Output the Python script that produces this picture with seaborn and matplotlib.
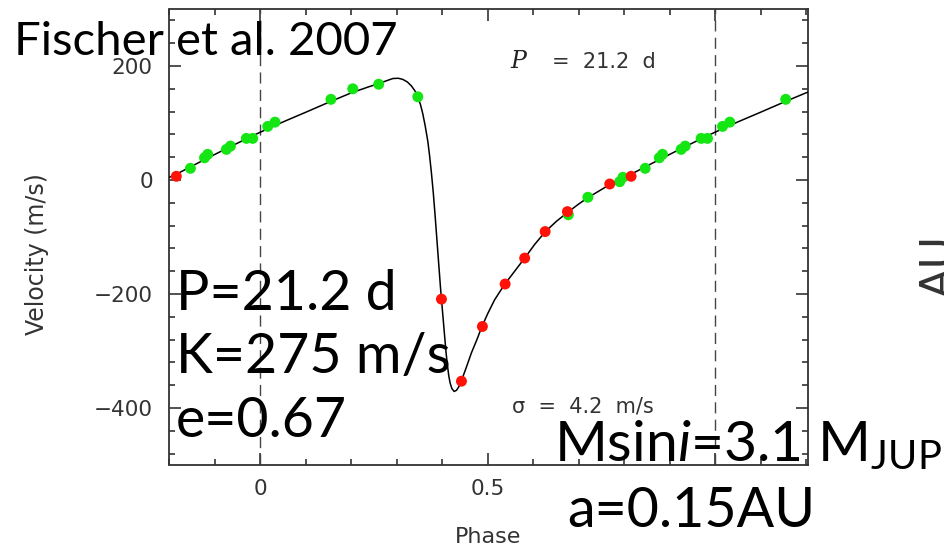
import matplotlib
matplotlib.use("Agg")
import matplotlib.pyplot as plt
from matplotlib.ticker import MultipleLocator, FixedLocator, FixedFormatter
import numpy as np
import pandas as pd
import seaborn as sns

# Radial-velocity observations folded on the 21.2 d period
obs_phase = [0.016, 0.032, 0.155, 0.203, 0.260, 0.346, 0.398, 0.442, 0.488,
             0.538, 0.581, 0.626, 0.677, 0.675, 0.720, 0.768, 0.790, 0.797,
             0.815, 0.846, 0.877, 0.884, 0.925, 0.934, 0.969, 0.983]
obs_vel = [94, 101.5, 141.5, 160, 168, 146, -209, -353, -257,
           -182.5, -137, -90.5, -61, -55.5, -30.3, -7, -3, 4.7,
           6.5, 20.5, 39, 45, 53.7, 59.5, 73, 73]
obs_set = ["green", "green", "green", "green", "green", "green", "red", "red", "red",
           "red", "red", "red", "green", "red", "green", "red", "green", "green",
           "red", "green", "green", "green", "green", "green", "green", "green"]

# Orbit solution over one period
model_phase = [0.000, 0.025, 0.050, 0.100, 0.155, 0.200, 0.218, 0.240, 0.260,
               0.275, 0.291, 0.303, 0.313, 0.323, 0.332, 0.340, 0.346, 0.352,
               0.357, 0.362, 0.368, 0.372, 0.376, 0.380, 0.384, 0.388, 0.392,
               0.396, 0.398, 0.402, 0.405, 0.408, 0.411, 0.414, 0.417, 0.421,
               0.426, 0.431, 0.436, 0.442, 0.453, 0.464, 0.476, 0.487, 0.500,
               0.515, 0.537, 0.560, 0.581, 0.603, 0.626, 0.650, 0.675, 0.700,
               0.720, 0.745, 0.768, 0.795, 0.817, 0.846, 0.880, 0.930, 0.976]
model_vel = [84, 93, 102, 119, 138, 153, 158, 164, 169,
             173.5, 178, 178.5, 176.5, 172, 165, 156, 146, 132,
             116, 96, 68, 42, 12, -22, -62, -105, -148,
             -190, -209, -248, -276, -302, -324, -343, -356, -366,
             -371, -369, -363, -352, -328, -303, -280, -257, -234,
             -210, -183, -159, -137, -113, -91, -73, -57, -42,
             -31, -19, -8, 3, 11, 23, 37, 57, 75]

x_ticks = [0, 0.5, 1]
x_tick_labels = ["0", "0.5", ""]

W, H, DPI = 945, 548, 100
sns.set_style("ticks")
plt.rcParams["font.family"] = ["DejaVu Sans"]
plt.rcParams["mathtext.fontset"] = "custom"
plt.rcParams["mathtext.rm"] = "Lato"
plt.rcParams["mathtext.it"] = "Lato:italic"

fig = plt.figure(figsize=(W / DPI, H / DPI), dpi=DPI)
fig.patch.set_facecolor("white")
ax = fig.add_axes([169.5 / W, 1 - 465 / H, (808 - 169.5) / W, (465 - 9) / H])
ax.set_facecolor("white")

# folded curve drawn over one extra fraction of a period on both sides
model = pd.DataFrame({"phase": model_phase, "vel": model_vel})
curve = pd.concat([model.assign(phase=model.phase + k) for k in (-1, 0, 1)],
                  ignore_index=True)
sns.lineplot(data=curve, x="phase", y="vel", estimator=None, sort=False,
             color="black", lw=1.1, ax=ax, zorder=3)

obs = pd.DataFrame({"phase": obs_phase, "vel": obs_vel, "set": obs_set})
pts = pd.concat([obs, obs[obs.phase > 0.8].assign(phase=lambda d: d.phase - 1),
                 obs[obs.phase < 0.2].assign(phase=lambda d: d.phase + 1)],
                ignore_index=True)
palette = {"green": "#14e614", "red": "#ff1208"}
for grp in ("green", "red"):
    sns.scatterplot(data=pts[pts.set == grp], x="phase", y="vel", color=palette[grp],
                    s=62, edgecolor="none", linewidth=0, ax=ax, zorder=4,
                    legend=False)

for xv in (0, 1):
    ax.axvline(xv, color="#444444", lw=1.0, ls=(0, (8, 4.5)), zorder=2)

ax.set_xlim(-0.2, 1.204)
ax.set_ylim(-500, 300)
ax.xaxis.set_major_locator(FixedLocator(x_ticks))
ax.xaxis.set_major_formatter(FixedFormatter(x_tick_labels))
ax.xaxis.set_minor_locator(MultipleLocator(0.1))
ax.yaxis.set_major_locator(MultipleLocator(200))
ax.yaxis.set_minor_locator(MultipleLocator(40))

for s in ax.spines.values():
    s.set_color("#333333")
    s.set_linewidth(1.3)
ax.tick_params(which="both", direction="in", top=True, right=True,
               color="#333333", width=1.2, labelcolor="#333333", labelsize=15.5)
ax.tick_params(which="major", length=8.6)
ax.tick_params(which="minor", length=4.3)
ax.tick_params(axis="x", pad=10)
ax.tick_params(axis="y", pad=12)

ax.set_xlabel("Phase", fontsize=16, color="#333333")
ax.set_ylabel("Velocity (m/s)", fontsize=17, color="#333333")
ax.xaxis.set_label_coords((488 - 169.5) / (808 - 169.5), -(527 - 465) / (465 - 9))
ax.yaxis.set_label_coords(-(169.5 - 49) / (808 - 169.5), (465 - 254) / (465 - 9))


def px(x, y):
    return x / W, 1 - y / H


# small panel annotations
fig.text(*px(510, 68), "P", fontsize=17, family="DejaVu Serif", style="italic",
         color="#222222", va="baseline")
fig.text(*px(552, 68), "=  21.2  d", fontsize=15, color="#333333", va="baseline")
fig.text(*px(512, 413), "σ  =  4.2  m/s", fontsize=15, color="#333333",
         va="baseline")

# large slide annotations
big = dict(family="Lato", color="black", va="baseline", ha="left")
fig.text(*px(14, 55), "Fischer et al. 2007", fontsize=34, **big)
fig.text(*px(176, 310), "P=21.2 d", fontsize=40, **big)
fig.text(*px(176, 373), "K=275 m/s", fontsize=40, **big)
fig.text(*px(176, 437), "e=0.67", fontsize=40, **big)
fig.text(*px(554, 461), r"Msin$\mathit{i}$=3.1 M$_{\mathrm{JUP}}$", fontsize=41, **big)
fig.text(*px(567, 527), "a=0.15AU", fontsize=40, **big)

# edge of the neighbouring panel
fig.text(*px(918, 266), "AU", fontsize=32, rotation=90, color="#333333",
         family="DejaVu Sans", ha="left", va="center")

fig.savefig("out.png", dpi=DPI, facecolor="white")
